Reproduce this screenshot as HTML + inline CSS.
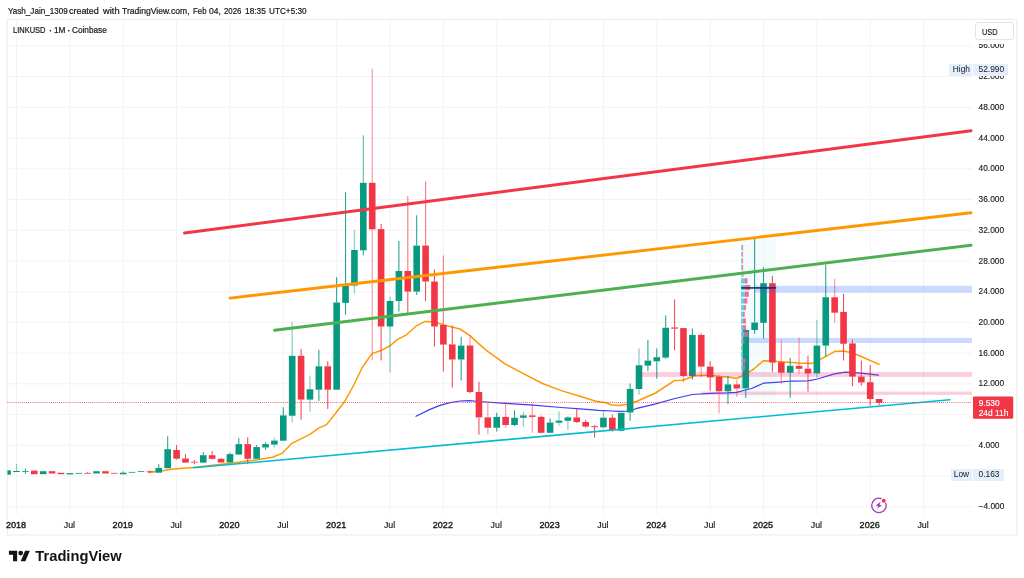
<!DOCTYPE html>
<html><head><meta charset="utf-8"><title>LINKUSD chart</title>
<style>
html,body{margin:0;padding:0;background:#fff;}
body{width:1024px;height:578px;position:relative;overflow:hidden;font-family:"Liberation Sans",sans-serif;color:#161616;}
.hdr{position:absolute;left:7.4px;top:3.7px;font-size:8.7px;line-height:14px;white-space:nowrap;color:#161616;transform:scaleX(0.982);transform-origin:0 50%;-webkit-text-stroke:0.2px #161616;}
.leg{position:absolute;left:13.3px;top:24px;font-size:8.5px;line-height:12px;white-space:nowrap;color:#161616;transform:scaleX(0.947);transform-origin:0 50%;-webkit-text-stroke:0.2px #161616;}
.wd{position:absolute;line-height:14px;white-space:nowrap;color:#161616;transform-origin:0 50%;-webkit-text-stroke:0.2px #161616;}
.pl{position:absolute;left:978.6px;width:40px;height:12px;line-height:12px;font-size:8.35px;white-space:nowrap;color:#161616;-webkit-text-stroke:0.12px #161616;}
.tl{position:absolute;top:518.6px;width:40px;text-align:center;height:12px;line-height:12px;font-size:8.8px;white-space:nowrap;color:#161616;-webkit-text-stroke:0.15px #161616;}
.tl.b{font-weight:normal;font-size:9.1px;top:518.6px;-webkit-text-stroke:0.36px #161616;}
.usd{position:absolute;left:974.5px;top:22px;width:39.4px;height:18px;border:1px solid #e3e4e8;border-radius:3px;background:#fff;font-size:8.5px;line-height:18px;box-sizing:border-box;padding-left:6.2px;}
.usdbg{position:absolute;left:973px;top:20px;width:43px;height:24px;background:#fff;}
.hl{position:absolute;height:12px;line-height:10.8px;font-size:8.35px;white-space:nowrap;background:#e3effd;box-sizing:border-box;}
.cur{position:absolute;left:978.7px;color:#fff;font-size:8.4px;line-height:10px;white-space:nowrap;-webkit-text-stroke:0.15px #fff;}
#w{position:absolute;left:0;top:0;width:1024px;height:578px;will-change:transform;}
</style></head><body><div id="w">
<svg width="1024" height="578" viewBox="0 0 1024 578" style="position:absolute;left:0;top:0">
<rect x="7.35" y="19.5" width="1009.4" height="515.4" fill="#fff" stroke="#f0f0f0" stroke-width="1.4"/>
<g stroke="#f3f3f3" stroke-width="1">
<line x1="16.50" y1="20" x2="16.50" y2="514.3"/>
<line x1="69.86" y1="20" x2="69.86" y2="514.3"/>
<line x1="123.22" y1="20" x2="123.22" y2="514.3"/>
<line x1="176.57" y1="20" x2="176.57" y2="514.3"/>
<line x1="229.93" y1="20" x2="229.93" y2="514.3"/>
<line x1="283.29" y1="20" x2="283.29" y2="514.3"/>
<line x1="336.65" y1="20" x2="336.65" y2="514.3"/>
<line x1="390.01" y1="20" x2="390.01" y2="514.3"/>
<line x1="443.36" y1="20" x2="443.36" y2="514.3"/>
<line x1="496.72" y1="20" x2="496.72" y2="514.3"/>
<line x1="550.08" y1="20" x2="550.08" y2="514.3"/>
<line x1="603.44" y1="20" x2="603.44" y2="514.3"/>
<line x1="656.80" y1="20" x2="656.80" y2="514.3"/>
<line x1="710.15" y1="20" x2="710.15" y2="514.3"/>
<line x1="763.51" y1="20" x2="763.51" y2="514.3"/>
<line x1="816.87" y1="20" x2="816.87" y2="514.3"/>
<line x1="870.23" y1="20" x2="870.23" y2="514.3"/>
<line x1="923.59" y1="20" x2="923.59" y2="514.3"/>
<line x1="7.4" y1="506.76" x2="972" y2="506.76"/>
<line x1="7.4" y1="476.03" x2="972" y2="476.03"/>
<line x1="7.4" y1="445.30" x2="972" y2="445.30"/>
<line x1="7.4" y1="414.57" x2="972" y2="414.57"/>
<line x1="7.4" y1="383.85" x2="972" y2="383.85"/>
<line x1="7.4" y1="353.12" x2="972" y2="353.12"/>
<line x1="7.4" y1="322.39" x2="972" y2="322.39"/>
<line x1="7.4" y1="291.66" x2="972" y2="291.66"/>
<line x1="7.4" y1="260.93" x2="972" y2="260.93"/>
<line x1="7.4" y1="230.21" x2="972" y2="230.21"/>
<line x1="7.4" y1="199.48" x2="972" y2="199.48"/>
<line x1="7.4" y1="168.75" x2="972" y2="168.75"/>
<line x1="7.4" y1="138.02" x2="972" y2="138.02"/>
<line x1="7.4" y1="107.29" x2="972" y2="107.29"/>
<line x1="7.4" y1="76.57" x2="972" y2="76.57"/>
<line x1="7.4" y1="45.84" x2="972" y2="45.84"/>
</g>
<rect x="741" y="238.7" width="35.2" height="159.2" fill="#e9f7fb" opacity="0.55"/>
<polyline points="148.5,472.4 163.0,470.8 170.8,469.2 193.0,467.6 232.5,462.9 257.5,459.8 272.5,457.2 282.5,453.1 291.9,443.3 310.0,434.4 318.6,428.1 326.5,424.6 336.4,412.2 345.0,401.0 353.8,385.0 362.5,367.0 371.9,353.6 380.5,350.8 389.8,346.0 397.5,339.4 406.5,334.8 416.4,325.8 425.0,321.4 434.6,322.0 443.4,324.8 452.0,327.1 460.0,329.0 470.0,335.6 478.0,343.1 486.3,350.3 505.0,363.8 523.8,373.8 542.5,383.5 561.2,390.6 580.0,396.2 595.0,401.0 605.6,402.8 612.0,405.0 619.7,405.6 629.0,404.0 636.9,401.2 655.6,393.0 674.4,380.6 682.6,380.2 695.0,375.7 710.3,375.0 719.0,376.5 727.5,377.0 736.8,378.5 741.8,376.0 748.8,372.1 753.9,369.0 763.3,360.7 772.5,361.0 781.0,361.7 798.8,363.0 812.0,363.4 821.2,358.8 834.4,351.6 843.4,350.9 852.2,352.8 861.2,356.5 879.0,364.4" fill="none" stroke="#ff9800" stroke-width="1.5" stroke-linejoin="round" stroke-linecap="round"/>
<polyline points="416.0,416.3 430.0,409.4 439.4,405.6 448.8,402.8 460.0,401.0 469.4,400.6 478.8,401.5 505.0,403.4 533.0,405.2 561.2,407.5 580.0,408.8 598.8,410.3 612.0,411.0 619.7,411.4 630.6,411.0 636.9,408.3 655.6,403.8 675.0,398.5 692.5,394.5 710.3,393.3 727.5,392.8 736.8,392.3 745.7,390.0 751.6,388.5 763.4,383.2 775.8,382.3 792.0,381.0 808.0,380.9 817.5,379.0 834.4,373.8 845.6,372.2 861.2,373.2 878.4,375.2" fill="none" stroke="#3d3df7" stroke-width="1.25" stroke-linejoin="round" stroke-linecap="round"/>
<rect x="749" y="337.9" width="223" height="5.1" fill="#2962ff" opacity="0.235"/>
<g>
<rect x="7.40" y="470.40" width="3.51" height="4.30" fill="#089981"/>
<rect x="15.85" y="464.00" width="1.3" height="7.00" fill="#089981" opacity="0.45"/>
<rect x="13.20" y="471.00" width="6.60" height="1.00" fill="#089981"/>
<rect x="24.87" y="468.70" width="1.05" height="2.30" fill="#089981" opacity="0.9"/>
<rect x="24.87" y="471.80" width="1.05" height="2.00" fill="#089981" opacity="0.9"/>
<rect x="22.09" y="471.00" width="6.60" height="0.80" fill="#089981"/>
<rect x="30.99" y="470.60" width="6.60" height="3.60" fill="#f23645"/>
<rect x="39.88" y="471.20" width="6.60" height="3.00" fill="#089981"/>
<rect x="48.77" y="471.20" width="6.60" height="2.30" fill="#f23645"/>
<rect x="57.67" y="472.80" width="6.60" height="1.40" fill="#f23645"/>
<rect x="66.56" y="473.10" width="6.60" height="1.30" fill="#089981"/>
<rect x="75.45" y="472.90" width="6.60" height="0.80" fill="#089981"/>
<rect x="87.12" y="472.00" width="1.05" height="0.90" fill="#f23645" opacity="0.9"/>
<rect x="84.34" y="472.90" width="6.60" height="0.80" fill="#f23645"/>
<rect x="93.24" y="471.20" width="6.60" height="2.30" fill="#089981"/>
<rect x="102.13" y="471.20" width="6.60" height="2.30" fill="#f23645"/>
<rect x="111.02" y="472.90" width="6.60" height="0.80" fill="#f23645"/>
<rect x="122.69" y="471.40" width="1.05" height="1.30" fill="#089981" opacity="0.9"/>
<rect x="119.92" y="472.70" width="6.60" height="1.60" fill="#089981"/>
<rect x="128.81" y="471.90" width="6.60" height="0.80" fill="#089981"/>
<rect x="137.70" y="471.10" width="6.60" height="0.80" fill="#089981"/>
<rect x="149.37" y="470.50" width="1.05" height="0.80" fill="#f23645" opacity="0.9"/>
<rect x="149.37" y="472.10" width="1.05" height="0.70" fill="#f23645" opacity="0.9"/>
<rect x="146.59" y="471.30" width="6.60" height="0.80" fill="#f23645"/>
<rect x="158.26" y="464.20" width="1.05" height="3.80" fill="#089981" opacity="0.9"/>
<rect x="155.49" y="468.00" width="6.60" height="4.70" fill="#089981"/>
<rect x="167.16" y="436.20" width="1.05" height="13.00" fill="#089981" opacity="0.9"/>
<rect x="164.38" y="449.20" width="6.60" height="19.00" fill="#089981"/>
<rect x="176.05" y="445.00" width="1.05" height="5.00" fill="#f23645" opacity="0.9"/>
<rect x="176.05" y="458.70" width="1.05" height="0.90" fill="#f23645" opacity="0.9"/>
<rect x="173.27" y="450.00" width="6.60" height="8.70" fill="#f23645"/>
<rect x="184.94" y="454.00" width="1.05" height="4.50" fill="#f23645" opacity="0.9"/>
<rect x="182.17" y="458.50" width="6.60" height="4.10" fill="#f23645"/>
<rect x="193.84" y="460.00" width="1.05" height="1.80" fill="#f23645" opacity="0.9"/>
<rect x="193.84" y="462.60" width="1.05" height="1.60" fill="#f23645" opacity="0.9"/>
<rect x="191.06" y="461.80" width="6.60" height="0.80" fill="#f23645"/>
<rect x="202.73" y="452.00" width="1.05" height="3.20" fill="#089981" opacity="0.9"/>
<rect x="199.95" y="455.20" width="6.60" height="7.40" fill="#089981"/>
<rect x="211.62" y="451.10" width="1.05" height="4.10" fill="#f23645" opacity="0.9"/>
<rect x="211.62" y="458.80" width="1.05" height="0.80" fill="#f23645" opacity="0.9"/>
<rect x="208.85" y="455.20" width="6.60" height="3.60" fill="#f23645"/>
<rect x="220.51" y="457.80" width="1.05" height="1.00" fill="#f23645" opacity="0.9"/>
<rect x="217.74" y="458.80" width="6.60" height="3.70" fill="#f23645"/>
<rect x="229.41" y="452.70" width="1.05" height="1.40" fill="#089981" opacity="0.9"/>
<rect x="226.63" y="454.10" width="6.60" height="8.40" fill="#089981"/>
<rect x="238.30" y="438.10" width="1.05" height="6.00" fill="#089981" opacity="0.9"/>
<rect x="235.53" y="444.10" width="6.60" height="10.50" fill="#089981"/>
<rect x="247.19" y="437.20" width="1.05" height="6.90" fill="#f23645" opacity="0.9"/>
<rect x="247.19" y="458.80" width="1.05" height="5.20" fill="#f23645" opacity="0.9"/>
<rect x="244.42" y="444.10" width="6.60" height="14.70" fill="#f23645"/>
<rect x="256.09" y="445.20" width="1.05" height="1.90" fill="#089981" opacity="0.9"/>
<rect x="253.31" y="447.10" width="6.60" height="11.70" fill="#089981"/>
<rect x="264.98" y="442.50" width="1.05" height="1.60" fill="#089981" opacity="0.9"/>
<rect x="264.98" y="447.50" width="1.05" height="2.20" fill="#089981" opacity="0.9"/>
<rect x="262.20" y="444.10" width="6.60" height="3.40" fill="#089981"/>
<rect x="273.75" y="437.50" width="1.3" height="3.10" fill="#089981" opacity="0.45"/>
<rect x="273.75" y="444.60" width="1.3" height="2.90" fill="#089981" opacity="0.45"/>
<rect x="271.10" y="440.60" width="6.60" height="4.00" fill="#089981"/>
<rect x="282.77" y="407.30" width="1.05" height="8.10" fill="#089981" opacity="0.9"/>
<rect x="279.99" y="415.40" width="6.60" height="25.30" fill="#089981"/>
<rect x="291.53" y="321.80" width="1.3" height="34.00" fill="#089981" opacity="0.45"/>
<rect x="291.53" y="415.70" width="1.3" height="6.80" fill="#089981" opacity="0.45"/>
<rect x="288.88" y="355.80" width="6.60" height="59.90" fill="#089981"/>
<rect x="300.55" y="349.00" width="1.05" height="6.80" fill="#f23645" opacity="0.9"/>
<rect x="300.55" y="399.60" width="1.05" height="20.10" fill="#f23645" opacity="0.9"/>
<rect x="297.78" y="355.80" width="6.60" height="43.80" fill="#f23645"/>
<rect x="309.32" y="375.60" width="1.3" height="13.70" fill="#089981" opacity="0.45"/>
<rect x="309.32" y="399.60" width="1.3" height="12.00" fill="#089981" opacity="0.45"/>
<rect x="306.67" y="389.30" width="6.60" height="10.30" fill="#089981"/>
<rect x="318.34" y="349.80" width="1.05" height="16.50" fill="#089981" opacity="0.9"/>
<rect x="318.34" y="389.70" width="1.05" height="11.30" fill="#089981" opacity="0.9"/>
<rect x="315.56" y="366.30" width="6.60" height="23.40" fill="#089981"/>
<rect x="327.23" y="361.20" width="1.05" height="5.10" fill="#f23645" opacity="0.9"/>
<rect x="327.23" y="389.70" width="1.05" height="19.20" fill="#f23645" opacity="0.9"/>
<rect x="324.45" y="366.30" width="6.60" height="23.40" fill="#f23645"/>
<rect x="336.12" y="277.20" width="1.05" height="25.30" fill="#089981" opacity="0.9"/>
<rect x="333.35" y="302.50" width="6.60" height="87.20" fill="#089981"/>
<rect x="345.02" y="192.20" width="1.05" height="93.40" fill="#089981" opacity="0.9"/>
<rect x="345.02" y="302.90" width="1.05" height="11.80" fill="#089981" opacity="0.9"/>
<rect x="342.24" y="285.60" width="6.60" height="17.30" fill="#089981"/>
<rect x="353.78" y="230.25" width="1.3" height="19.75" fill="#089981" opacity="0.45"/>
<rect x="353.78" y="285.60" width="1.3" height="7.90" fill="#089981" opacity="0.45"/>
<rect x="351.13" y="250.00" width="6.60" height="35.60" fill="#089981"/>
<rect x="362.75" y="135.30" width="1.15" height="47.50" fill="#089981" opacity="0.65"/>
<rect x="362.80" y="250.30" width="1.05" height="5.10" fill="#089981" opacity="0.9"/>
<rect x="360.03" y="182.80" width="6.60" height="67.50" fill="#089981"/>
<rect x="371.57" y="68.75" width="1.3" height="114.05" fill="#f23645" opacity="0.45"/>
<rect x="371.57" y="229.30" width="1.3" height="131.10" fill="#f23645" opacity="0.45"/>
<rect x="368.92" y="182.80" width="6.60" height="46.50" fill="#f23645"/>
<rect x="380.59" y="224.00" width="1.05" height="5.10" fill="#f23645" opacity="0.9"/>
<rect x="380.59" y="326.50" width="1.05" height="33.90" fill="#f23645" opacity="0.9"/>
<rect x="377.81" y="229.10" width="6.60" height="97.40" fill="#f23645"/>
<rect x="389.36" y="296.50" width="1.3" height="4.50" fill="#089981" opacity="0.45"/>
<rect x="389.36" y="326.50" width="1.3" height="46.00" fill="#089981" opacity="0.45"/>
<rect x="386.71" y="301.00" width="6.60" height="25.50" fill="#089981"/>
<rect x="398.37" y="241.00" width="1.05" height="30.00" fill="#089981" opacity="0.9"/>
<rect x="398.37" y="301.00" width="1.05" height="10.50" fill="#089981" opacity="0.9"/>
<rect x="395.60" y="271.00" width="6.60" height="30.00" fill="#089981"/>
<rect x="407.22" y="196.30" width="1.15" height="74.70" fill="#f23645" opacity="0.65"/>
<rect x="407.27" y="291.60" width="1.05" height="23.10" fill="#f23645" opacity="0.9"/>
<rect x="404.49" y="271.00" width="6.60" height="20.60" fill="#f23645"/>
<rect x="416.16" y="215.25" width="1.05" height="30.35" fill="#089981" opacity="0.9"/>
<rect x="416.16" y="291.60" width="1.05" height="3.40" fill="#089981" opacity="0.9"/>
<rect x="413.39" y="245.60" width="6.60" height="46.00" fill="#089981"/>
<rect x="425.00" y="181.50" width="1.15" height="64.10" fill="#f23645" opacity="0.65"/>
<rect x="425.05" y="281.50" width="1.05" height="19.50" fill="#f23645" opacity="0.9"/>
<rect x="422.28" y="245.60" width="6.60" height="35.90" fill="#f23645"/>
<rect x="433.95" y="269.30" width="1.05" height="12.20" fill="#f23645" opacity="0.9"/>
<rect x="433.95" y="326.50" width="1.05" height="20.10" fill="#f23645" opacity="0.9"/>
<rect x="431.17" y="281.50" width="6.60" height="45.00" fill="#f23645"/>
<rect x="442.79" y="255.50" width="1.15" height="69.50" fill="#f23645" opacity="0.65"/>
<rect x="442.84" y="344.60" width="1.05" height="27.00" fill="#f23645" opacity="0.9"/>
<rect x="440.06" y="325.00" width="6.60" height="19.60" fill="#f23645"/>
<rect x="451.73" y="325.40" width="1.05" height="19.00" fill="#f23645" opacity="0.9"/>
<rect x="451.73" y="359.50" width="1.05" height="28.00" fill="#f23645" opacity="0.9"/>
<rect x="448.96" y="344.40" width="6.60" height="15.10" fill="#f23645"/>
<rect x="460.63" y="336.90" width="1.05" height="8.70" fill="#089981" opacity="0.9"/>
<rect x="460.63" y="359.50" width="1.05" height="21.10" fill="#089981" opacity="0.9"/>
<rect x="457.85" y="345.60" width="6.60" height="13.90" fill="#089981"/>
<rect x="469.39" y="335.00" width="1.3" height="10.50" fill="#f23645" opacity="0.45"/>
<rect x="469.52" y="392.00" width="1.05" height="1.40" fill="#f23645" opacity="0.9"/>
<rect x="466.74" y="345.50" width="6.60" height="46.50" fill="#f23645"/>
<rect x="478.41" y="381.60" width="1.05" height="10.40" fill="#f23645" opacity="0.9"/>
<rect x="478.41" y="417.40" width="1.05" height="17.30" fill="#f23645" opacity="0.9"/>
<rect x="475.64" y="392.00" width="6.60" height="25.40" fill="#f23645"/>
<rect x="487.18" y="402.40" width="1.3" height="15.00" fill="#f23645" opacity="0.45"/>
<rect x="487.18" y="427.75" width="1.3" height="6.55" fill="#f23645" opacity="0.45"/>
<rect x="484.53" y="417.40" width="6.60" height="10.35" fill="#f23645"/>
<rect x="496.20" y="412.75" width="1.05" height="4.15" fill="#089981" opacity="0.9"/>
<rect x="496.20" y="427.75" width="1.05" height="3.75" fill="#089981" opacity="0.9"/>
<rect x="493.42" y="416.90" width="6.60" height="10.85" fill="#089981"/>
<rect x="504.97" y="402.80" width="1.3" height="14.10" fill="#f23645" opacity="0.45"/>
<rect x="504.97" y="425.00" width="1.3" height="2.75" fill="#f23645" opacity="0.45"/>
<rect x="502.31" y="416.90" width="6.60" height="8.10" fill="#f23645"/>
<rect x="513.98" y="410.30" width="1.05" height="7.50" fill="#089981" opacity="0.9"/>
<rect x="513.98" y="425.00" width="1.05" height="0.90" fill="#089981" opacity="0.9"/>
<rect x="511.21" y="417.80" width="6.60" height="7.20" fill="#089981"/>
<rect x="522.75" y="411.80" width="1.3" height="3.60" fill="#089981" opacity="0.45"/>
<rect x="522.75" y="417.80" width="1.3" height="8.80" fill="#089981" opacity="0.45"/>
<rect x="520.10" y="415.40" width="6.60" height="2.40" fill="#089981"/>
<rect x="531.64" y="403.40" width="1.3" height="12.00" fill="#f23645" opacity="0.45"/>
<rect x="531.64" y="416.90" width="1.3" height="15.90" fill="#f23645" opacity="0.45"/>
<rect x="528.99" y="415.40" width="6.60" height="1.50" fill="#f23645"/>
<rect x="540.66" y="415.60" width="1.05" height="1.30" fill="#f23645" opacity="0.9"/>
<rect x="540.66" y="432.80" width="1.05" height="0.60" fill="#f23645" opacity="0.9"/>
<rect x="537.89" y="416.90" width="6.60" height="15.90" fill="#f23645"/>
<rect x="549.56" y="418.40" width="1.05" height="4.10" fill="#089981" opacity="0.9"/>
<rect x="546.78" y="422.50" width="6.60" height="10.30" fill="#089981"/>
<rect x="558.32" y="411.25" width="1.3" height="9.35" fill="#089981" opacity="0.45"/>
<rect x="558.32" y="422.70" width="1.3" height="3.20" fill="#089981" opacity="0.45"/>
<rect x="555.67" y="420.60" width="6.60" height="2.10" fill="#089981"/>
<rect x="567.22" y="416.00" width="1.3" height="1.40" fill="#089981" opacity="0.45"/>
<rect x="567.22" y="420.80" width="1.3" height="9.20" fill="#089981" opacity="0.45"/>
<rect x="564.57" y="417.40" width="6.60" height="3.40" fill="#089981"/>
<rect x="576.23" y="408.40" width="1.05" height="9.00" fill="#f23645" opacity="0.9"/>
<rect x="576.23" y="422.10" width="1.05" height="0.80" fill="#f23645" opacity="0.9"/>
<rect x="573.46" y="417.40" width="6.60" height="4.70" fill="#f23645"/>
<rect x="585.13" y="419.70" width="1.05" height="2.30" fill="#f23645" opacity="0.9"/>
<rect x="585.13" y="426.60" width="1.05" height="1.15" fill="#f23645" opacity="0.9"/>
<rect x="582.35" y="422.00" width="6.60" height="4.60" fill="#f23645"/>
<rect x="594.02" y="425.00" width="1.05" height="1.20" fill="#f23645" opacity="0.9"/>
<rect x="594.02" y="427.20" width="1.05" height="10.30" fill="#f23645" opacity="0.9"/>
<rect x="591.25" y="426.20" width="6.60" height="1.00" fill="#f23645"/>
<rect x="602.79" y="410.50" width="1.3" height="7.20" fill="#089981" opacity="0.45"/>
<rect x="602.79" y="427.30" width="1.3" height="1.50" fill="#089981" opacity="0.45"/>
<rect x="600.14" y="417.70" width="6.60" height="9.60" fill="#089981"/>
<rect x="611.81" y="414.50" width="1.05" height="3.20" fill="#f23645" opacity="0.9"/>
<rect x="611.81" y="430.00" width="1.05" height="1.60" fill="#f23645" opacity="0.9"/>
<rect x="609.03" y="417.70" width="6.60" height="12.30" fill="#f23645"/>
<rect x="620.70" y="430.80" width="1.05" height="0.50" fill="#089981" opacity="0.9"/>
<rect x="617.92" y="412.80" width="6.60" height="18.00" fill="#089981"/>
<rect x="629.59" y="383.50" width="1.05" height="5.40" fill="#089981" opacity="0.9"/>
<rect x="629.59" y="412.50" width="1.05" height="8.30" fill="#089981" opacity="0.9"/>
<rect x="626.82" y="388.90" width="6.60" height="23.60" fill="#089981"/>
<rect x="638.36" y="348.40" width="1.3" height="16.85" fill="#089981" opacity="0.45"/>
<rect x="638.36" y="389.00" width="1.3" height="5.70" fill="#089981" opacity="0.45"/>
<rect x="635.71" y="365.25" width="6.60" height="23.75" fill="#089981"/>
<rect x="647.38" y="339.75" width="1.05" height="20.85" fill="#089981" opacity="0.9"/>
<rect x="647.38" y="365.60" width="1.05" height="5.65" fill="#089981" opacity="0.9"/>
<rect x="644.60" y="360.60" width="6.60" height="5.00" fill="#089981"/>
<rect x="656.27" y="348.40" width="1.05" height="8.80" fill="#089981" opacity="0.9"/>
<rect x="656.27" y="361.30" width="1.05" height="17.45" fill="#089981" opacity="0.9"/>
<rect x="653.50" y="357.20" width="6.60" height="4.10" fill="#089981"/>
<rect x="665.16" y="315.40" width="1.05" height="12.35" fill="#089981" opacity="0.9"/>
<rect x="665.16" y="357.60" width="1.05" height="1.10" fill="#089981" opacity="0.9"/>
<rect x="662.39" y="327.75" width="6.60" height="29.85" fill="#089981"/>
<rect x="674.06" y="299.50" width="1.05" height="27.90" fill="#f23645" opacity="0.9"/>
<rect x="674.06" y="328.70" width="1.05" height="21.55" fill="#f23645" opacity="0.9"/>
<rect x="671.28" y="327.40" width="6.60" height="1.30" fill="#f23645"/>
<rect x="682.83" y="376.00" width="1.3" height="6.50" fill="#f23645" opacity="0.45"/>
<rect x="680.18" y="328.10" width="6.60" height="47.90" fill="#f23645"/>
<rect x="691.84" y="328.50" width="1.05" height="6.40" fill="#089981" opacity="0.9"/>
<rect x="691.84" y="376.00" width="1.05" height="3.70" fill="#089981" opacity="0.9"/>
<rect x="689.07" y="334.90" width="6.60" height="41.10" fill="#089981"/>
<rect x="700.61" y="332.80" width="1.3" height="2.10" fill="#f23645" opacity="0.45"/>
<rect x="700.61" y="366.60" width="1.3" height="10.65" fill="#f23645" opacity="0.45"/>
<rect x="697.96" y="334.90" width="6.60" height="31.70" fill="#f23645"/>
<rect x="709.63" y="361.00" width="1.05" height="5.60" fill="#f23645" opacity="0.9"/>
<rect x="709.63" y="377.40" width="1.05" height="13.20" fill="#f23645" opacity="0.9"/>
<rect x="706.85" y="366.60" width="6.60" height="10.80" fill="#f23645"/>
<rect x="718.40" y="375.00" width="1.3" height="1.90" fill="#f23645" opacity="0.45"/>
<rect x="718.40" y="391.20" width="1.3" height="22.20" fill="#f23645" opacity="0.45"/>
<rect x="715.75" y="376.90" width="6.60" height="14.30" fill="#f23645"/>
<rect x="727.42" y="376.00" width="1.05" height="8.40" fill="#089981" opacity="0.9"/>
<rect x="727.42" y="391.20" width="1.05" height="12.80" fill="#089981" opacity="0.9"/>
<rect x="724.64" y="384.40" width="6.60" height="6.80" fill="#089981"/>
<rect x="736.18" y="380.00" width="1.3" height="4.40" fill="#f23645" opacity="0.45"/>
<rect x="736.18" y="388.50" width="1.3" height="8.50" fill="#f23645" opacity="0.45"/>
<rect x="733.53" y="384.40" width="6.60" height="4.10" fill="#f23645"/>
<rect x="745.20" y="328.50" width="1.05" height="1.50" fill="#089981" opacity="0.9"/>
<rect x="745.20" y="388.40" width="1.05" height="9.40" fill="#089981" opacity="0.9"/>
<rect x="742.43" y="330.00" width="6.60" height="58.40" fill="#089981"/>
<rect x="754.09" y="238.90" width="1.05" height="83.60" fill="#089981" opacity="0.9"/>
<rect x="754.09" y="330.00" width="1.05" height="3.75" fill="#089981" opacity="0.9"/>
<rect x="751.32" y="322.50" width="6.60" height="7.50" fill="#089981"/>
<rect x="762.99" y="267.25" width="1.05" height="15.95" fill="#089981" opacity="0.9"/>
<rect x="762.99" y="322.80" width="1.05" height="15.80" fill="#089981" opacity="0.9"/>
<rect x="760.21" y="283.20" width="6.60" height="39.60" fill="#089981"/>
<rect x="771.88" y="275.90" width="1.05" height="7.30" fill="#f23645" opacity="0.9"/>
<rect x="771.88" y="362.60" width="1.05" height="9.20" fill="#f23645" opacity="0.9"/>
<rect x="769.11" y="283.20" width="6.60" height="79.40" fill="#f23645"/>
<rect x="780.65" y="340.00" width="1.3" height="22.20" fill="#f23645" opacity="0.45"/>
<rect x="780.65" y="372.75" width="1.3" height="11.25" fill="#f23645" opacity="0.45"/>
<rect x="778.00" y="362.20" width="6.60" height="10.55" fill="#f23645"/>
<rect x="789.67" y="357.80" width="1.05" height="8.00" fill="#089981" opacity="0.9"/>
<rect x="789.67" y="372.75" width="1.05" height="25.05" fill="#089981" opacity="0.9"/>
<rect x="786.89" y="365.80" width="6.60" height="6.95" fill="#089981"/>
<rect x="798.43" y="337.60" width="1.3" height="28.30" fill="#f23645" opacity="0.45"/>
<rect x="798.43" y="368.80" width="1.3" height="5.00" fill="#f23645" opacity="0.45"/>
<rect x="795.78" y="365.90" width="6.60" height="2.90" fill="#f23645"/>
<rect x="807.45" y="355.60" width="1.05" height="13.10" fill="#f23645" opacity="0.9"/>
<rect x="807.45" y="373.40" width="1.05" height="18.20" fill="#f23645" opacity="0.9"/>
<rect x="804.68" y="368.70" width="6.60" height="4.70" fill="#f23645"/>
<rect x="816.22" y="319.75" width="1.3" height="25.85" fill="#089981" opacity="0.45"/>
<rect x="816.22" y="373.40" width="1.3" height="4.10" fill="#089981" opacity="0.45"/>
<rect x="813.57" y="345.60" width="6.60" height="27.80" fill="#089981"/>
<rect x="825.24" y="264.60" width="1.05" height="32.65" fill="#089981" opacity="0.9"/>
<rect x="825.24" y="345.60" width="1.05" height="10.90" fill="#089981" opacity="0.9"/>
<rect x="822.46" y="297.25" width="6.60" height="48.35" fill="#089981"/>
<rect x="834.01" y="278.70" width="1.3" height="18.55" fill="#f23645" opacity="0.45"/>
<rect x="834.01" y="312.70" width="1.3" height="10.05" fill="#f23645" opacity="0.45"/>
<rect x="831.36" y="297.25" width="6.60" height="15.45" fill="#f23645"/>
<rect x="843.02" y="293.70" width="1.05" height="18.20" fill="#f23645" opacity="0.9"/>
<rect x="843.02" y="343.75" width="1.05" height="16.85" fill="#f23645" opacity="0.9"/>
<rect x="840.25" y="311.90" width="6.60" height="31.85" fill="#f23645"/>
<rect x="851.92" y="339.40" width="1.05" height="4.00" fill="#f23645" opacity="0.9"/>
<rect x="851.92" y="376.60" width="1.05" height="9.70" fill="#f23645" opacity="0.9"/>
<rect x="849.14" y="343.40" width="6.60" height="33.20" fill="#f23645"/>
<rect x="860.81" y="360.60" width="1.05" height="16.00" fill="#f23645" opacity="0.9"/>
<rect x="860.81" y="382.50" width="1.05" height="3.10" fill="#f23645" opacity="0.9"/>
<rect x="858.04" y="376.60" width="6.60" height="5.90" fill="#f23645"/>
<rect x="869.70" y="365.00" width="1.05" height="17.20" fill="#f23645" opacity="0.9"/>
<rect x="869.70" y="399.00" width="1.05" height="6.60" fill="#f23645" opacity="0.9"/>
<rect x="866.93" y="382.20" width="6.60" height="16.80" fill="#f23645"/>
<rect x="878.60" y="402.80" width="1.05" height="2.20" fill="#f23645" opacity="0.9"/>
<rect x="875.82" y="399.00" width="6.60" height="3.80" fill="#f23645"/>
</g>
<rect x="754.6" y="285.8" width="217.4" height="6.9" fill="#2962ff" opacity="0.235"/>
<rect x="639.7" y="372.1" width="332.3" height="4.8" fill="#e91e63" opacity="0.22"/>
<rect x="701.5" y="391.6" width="270.5" height="3.3" fill="#e91e63" opacity="0.22"/>
<rect x="741.1" y="244.90" width="0.80" height="5.2" fill="#4dd0e1" opacity="0.75"/>
<rect x="741.90" y="244.90" width="1.20" height="5.2" fill="#f06292" opacity="0.75"/>
<rect x="741.1" y="251.58" width="0.80" height="5.2" fill="#4dd0e1" opacity="0.75"/>
<rect x="741.90" y="251.58" width="1.20" height="5.2" fill="#f06292" opacity="0.75"/>
<rect x="741.1" y="258.26" width="0.80" height="5.2" fill="#4dd0e1" opacity="0.75"/>
<rect x="741.90" y="258.26" width="1.20" height="5.2" fill="#f06292" opacity="0.75"/>
<rect x="741.1" y="264.94" width="0.90" height="5.2" fill="#4dd0e1" opacity="0.75"/>
<rect x="742.00" y="264.94" width="1.20" height="5.2" fill="#f06292" opacity="0.75"/>
<rect x="741.1" y="271.62" width="1.20" height="5.2" fill="#4dd0e1" opacity="0.75"/>
<rect x="742.30" y="271.62" width="1.30" height="5.2" fill="#f06292" opacity="0.75"/>
<rect x="741.1" y="278.30" width="3.80" height="5.2" fill="#4dd0e1" opacity="0.92"/>
<rect x="744.90" y="278.30" width="2.60" height="5.2" fill="#f06292" opacity="0.92"/>
<rect x="741.1" y="284.98" width="3.80" height="5.2" fill="#4dd0e1" opacity="0.92"/>
<rect x="744.90" y="284.98" width="5.40" height="5.2" fill="#f06292" opacity="0.92"/>
<rect x="741.1" y="291.66" width="3.60" height="5.2" fill="#4dd0e1" opacity="0.92"/>
<rect x="744.70" y="291.66" width="4.10" height="5.2" fill="#f06292" opacity="0.92"/>
<rect x="741.1" y="298.34" width="3.00" height="5.2" fill="#4dd0e1" opacity="0.92"/>
<rect x="744.10" y="298.34" width="3.20" height="5.2" fill="#f06292" opacity="0.92"/>
<rect x="741.1" y="305.02" width="3.00" height="5.2" fill="#4dd0e1" opacity="0.92"/>
<rect x="744.10" y="305.02" width="1.80" height="5.2" fill="#f06292" opacity="0.92"/>
<rect x="741.1" y="311.70" width="2.00" height="5.2" fill="#4dd0e1" opacity="0.92"/>
<rect x="743.10" y="311.70" width="1.60" height="5.2" fill="#f06292" opacity="0.92"/>
<rect x="741.1" y="318.38" width="2.00" height="5.2" fill="#4dd0e1" opacity="0.92"/>
<rect x="743.10" y="318.38" width="2.80" height="5.2" fill="#f06292" opacity="0.92"/>
<rect x="741.1" y="325.06" width="2.00" height="5.2" fill="#4dd0e1" opacity="0.92"/>
<rect x="743.10" y="325.06" width="2.80" height="5.2" fill="#f06292" opacity="0.92"/>
<rect x="741.1" y="331.74" width="3.50" height="5.2" fill="#4dd0e1" opacity="0.92"/>
<rect x="744.60" y="331.74" width="3.60" height="5.2" fill="#f06292" opacity="0.92"/>
<rect x="741.1" y="338.42" width="2.00" height="5.2" fill="#4dd0e1" opacity="0.92"/>
<rect x="743.10" y="338.42" width="1.40" height="5.2" fill="#f06292" opacity="0.92"/>
<rect x="741.1" y="345.10" width="1.20" height="5.2" fill="#4dd0e1" opacity="0.92"/>
<rect x="741.1" y="351.78" width="1.20" height="5.2" fill="#4dd0e1" opacity="0.92"/>
<rect x="741.1" y="358.46" width="2.00" height="5.2" fill="#4dd0e1" opacity="0.92"/>
<rect x="743.10" y="358.46" width="2.40" height="5.2" fill="#f06292" opacity="0.92"/>
<rect x="741.1" y="365.14" width="2.00" height="5.2" fill="#4dd0e1" opacity="0.92"/>
<rect x="743.10" y="365.14" width="1.90" height="5.2" fill="#f06292" opacity="0.92"/>
<rect x="741.1" y="371.5" width="1.3" height="20" fill="#4dd0e1" opacity="0.45"/>
<rect x="741.1" y="287.05" width="35.1" height="1.7" fill="#1c2a4f" opacity="0.9"/>
<line x1="184.5" y1="233.0" x2="971" y2="130.8" stroke="#f23645" stroke-width="2.9" stroke-linecap="round"/>
<line x1="230" y1="298.1" x2="971" y2="212.8" stroke="#ff9800" stroke-width="2.9" stroke-linecap="round"/>
<line x1="274.5" y1="330.2" x2="971" y2="245.2" stroke="#4caf50" stroke-width="2.9" stroke-linecap="round"/>
<line x1="193.5" y1="467.8" x2="950" y2="399.7" stroke="#00bcd4" stroke-width="1.6" stroke-linecap="round"/>
<line x1="7.4" y1="402.5" x2="972" y2="402.5" stroke="#f23645" stroke-width="1" stroke-dasharray="0.95 1.12" opacity="0.8"/>
<rect x="973" y="396.6" width="40.2" height="22.1" rx="1.2" fill="#f23645"/>
<g transform="translate(878.95,505.4)"><path d="M6.85,-2.22 A7.2,7.2 0 1 1 2.1,-6.89" fill="none" stroke="#a33fc2" stroke-width="1.35" stroke-linecap="round"/><path d="M1.8,-3.6 L-3.1,0.15 L-0.3,0.55 L-2.4,3.7 L2.9,-0.2 L0.4,-0.65 Z" fill="#9c27b0"/><circle cx="4.85" cy="-4.7" r="1.95" fill="#f23645"/></g>
<g transform="translate(8.9,548.35) scale(0.589)" fill="#141414"><path d="M14 22H7V11H0V4h14v18zM28 22h-8l7.5-18h8L28 22z"/><circle cx="20" cy="8" r="4"/></g>
<text x="35.3" y="561.1" font-family="Liberation Sans, sans-serif" font-weight="bold" font-size="13.8" textLength="86.4" lengthAdjust="spacingAndGlyphs" fill="#141414">TradingView</text>
</svg>
<span class="wd" style="left:7.50px;top:3.7px;font-size:8.7px;transform:scaleX(0.932)">Yash_Jain_1309</span>
<span class="wd" style="left:69.49px;top:3.7px;font-size:8.7px;transform:scaleX(1.027)">created</span>
<span class="wd" style="left:102.63px;top:3.7px;font-size:8.7px;transform:scaleX(1.074)">with</span>
<span class="wd" style="left:122.18px;top:3.7px;font-size:8.7px;transform:scaleX(0.985)">TradingView.com,</span>
<span class="wd" style="left:192.94px;top:3.7px;font-size:8.7px;transform:scaleX(0.903)">Feb</span>
<span class="wd" style="left:209.46px;top:3.7px;font-size:8.7px;transform:scaleX(0.980)">04,</span>
<span class="wd" style="left:224.16px;top:3.7px;font-size:8.7px;transform:scaleX(0.899)">2026</span>
<span class="wd" style="left:245.00px;top:3.7px;font-size:8.7px;transform:scaleX(0.958)">18:35</span>
<span class="wd" style="left:268.81px;top:3.7px;font-size:8.7px;transform:scaleX(0.945)">UTC+5:30</span>
<span class="wd" style="left:12.55px;top:23.1px;font-size:8.5px;transform:scaleX(0.882)">LINKUSD</span>
<span class="wd" style="left:48.43px;top:23.1px;font-size:11.5px;transform:scaleX(1.000)">·</span>
<span class="wd" style="left:53.52px;top:23.1px;font-size:8.5px;transform:scaleX(0.967)">1M</span>
<span class="wd" style="left:66.83px;top:23.1px;font-size:11.5px;transform:scaleX(1.000)">·</span>
<span class="wd" style="left:72.39px;top:23.1px;font-size:8.5px;transform:scaleX(0.969)">Coinbase</span>
<div class="pl" style="top:500.36px">−4.000</div>
<div class="pl" style="top:469.63px">0.000</div>
<div class="pl" style="top:438.90px">4.000</div>
<div class="pl" style="top:377.45px">12.000</div>
<div class="pl" style="top:346.72px">16.000</div>
<div class="pl" style="top:315.99px">20.000</div>
<div class="pl" style="top:285.26px">24.000</div>
<div class="pl" style="top:254.53px">28.000</div>
<div class="pl" style="top:223.81px">32.000</div>
<div class="pl" style="top:193.08px">36.000</div>
<div class="pl" style="top:162.35px">40.000</div>
<div class="pl" style="top:131.62px">44.000</div>
<div class="pl" style="top:100.89px">48.000</div>
<div class="pl" style="top:70.17px">52.000</div>
<div class="pl" style="top:39.44px">56.000</div>
<div class="tl b" style="left:-4.00px">2018</div>
<div class="tl" style="left:49.36px">Jul</div>
<div class="tl b" style="left:102.72px">2019</div>
<div class="tl" style="left:156.07px">Jul</div>
<div class="tl b" style="left:209.43px">2020</div>
<div class="tl" style="left:262.79px">Jul</div>
<div class="tl b" style="left:316.15px">2021</div>
<div class="tl" style="left:369.51px">Jul</div>
<div class="tl b" style="left:422.86px">2022</div>
<div class="tl" style="left:476.22px">Jul</div>
<div class="tl b" style="left:529.58px">2023</div>
<div class="tl" style="left:582.94px">Jul</div>
<div class="tl b" style="left:636.30px">2024</div>
<div class="tl" style="left:689.65px">Jul</div>
<div class="tl b" style="left:743.01px">2025</div>
<div class="tl" style="left:796.37px">Jul</div>
<div class="tl b" style="left:849.73px">2026</div>
<div class="tl" style="left:903.09px">Jul</div>
<div class="usdbg"></div>
<div class="usd"><span style="display:inline-block;transform:scaleX(0.86);transform-origin:0 50%;-webkit-text-stroke:0.15px #161616">USD</span></div>
<div class="hl" style="left:949.4px;top:63.6px;width:22.4px;padding-left:3.4px">High</div>
<div class="hl" style="left:972.7px;top:63.6px;width:35.4px;padding-left:5.9px">52.990</div>
<div class="hl" style="left:950.6px;top:468.8px;width:21.2px;padding-left:3.2px">Low</div>
<div class="hl" style="left:972.7px;top:468.8px;width:31.2px;padding-left:5.9px">0.163</div>
<div class="cur" style="top:397.6px">9.530</div>
<div class="cur" style="top:407.7px">24d 11h</div>
</div></body></html>
